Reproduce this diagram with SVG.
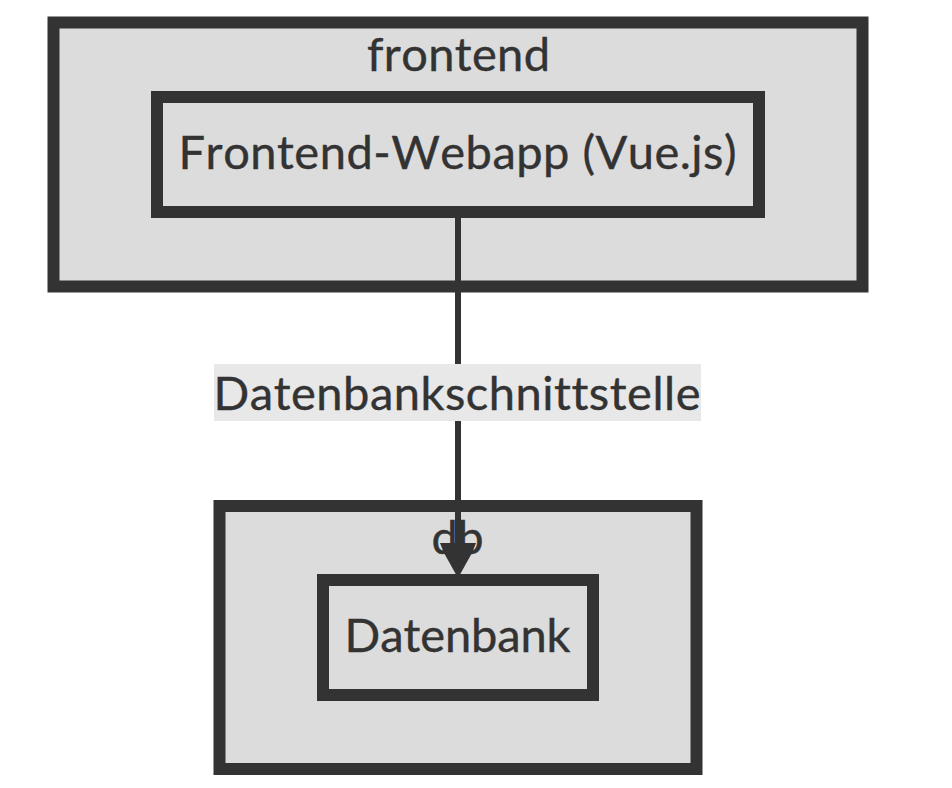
<svg xmlns="http://www.w3.org/2000/svg" width="952" height="788" viewBox="0 0 952 788">
<style>
.box{fill:#dcdcdc;stroke:#333;stroke-width:12}
.t{font-family:"Lato","Noto Sans",sans-serif;font-size:47px;fill:#333;stroke:#333;stroke-width:.4;text-anchor:start;font-kerning:none;font-variant-ligatures:none}
.edge{fill:none;stroke:#333;stroke-width:6}
.head{fill:#333}
</style>
<rect width="952" height="788" fill="#fff"/>
<g id="frontend"><rect class="box" x="53.500" y="22.500" width="809" height="264"/><text class="t" x="367" y="71" textLength="183">frontend</text></g>
<g id="db"><rect class="box" x="219.500" y="506" width="477" height="263"/><text class="t" x="431.500" y="554" textLength="52">db</text></g>
<g id="webapp"><rect class="box" x="157" y="97" width="602" height="115"/><text class="t" x="178.500" y="169" textLength="558">Frontend-Webapp (Vue.js)</text></g>
<g id="datenbank"><rect class="box" x="323" y="580" width="270" height="115"/><text class="t" x="344.500" y="652" textLength="226">Datenbank</text></g>
<g id="connectors"><path class="edge" d="M458 218V560"/><path class="head" d="M440 543H476L472 553L458 578L444 553Z"/>
<g id="edge-label"><rect x="214" y="364" width="487" height="57" fill="#e8e8e8"/><text class="t" x="213.500" y="410" textLength="487">Datenbankschnittstelle</text></g></g>
</svg>
